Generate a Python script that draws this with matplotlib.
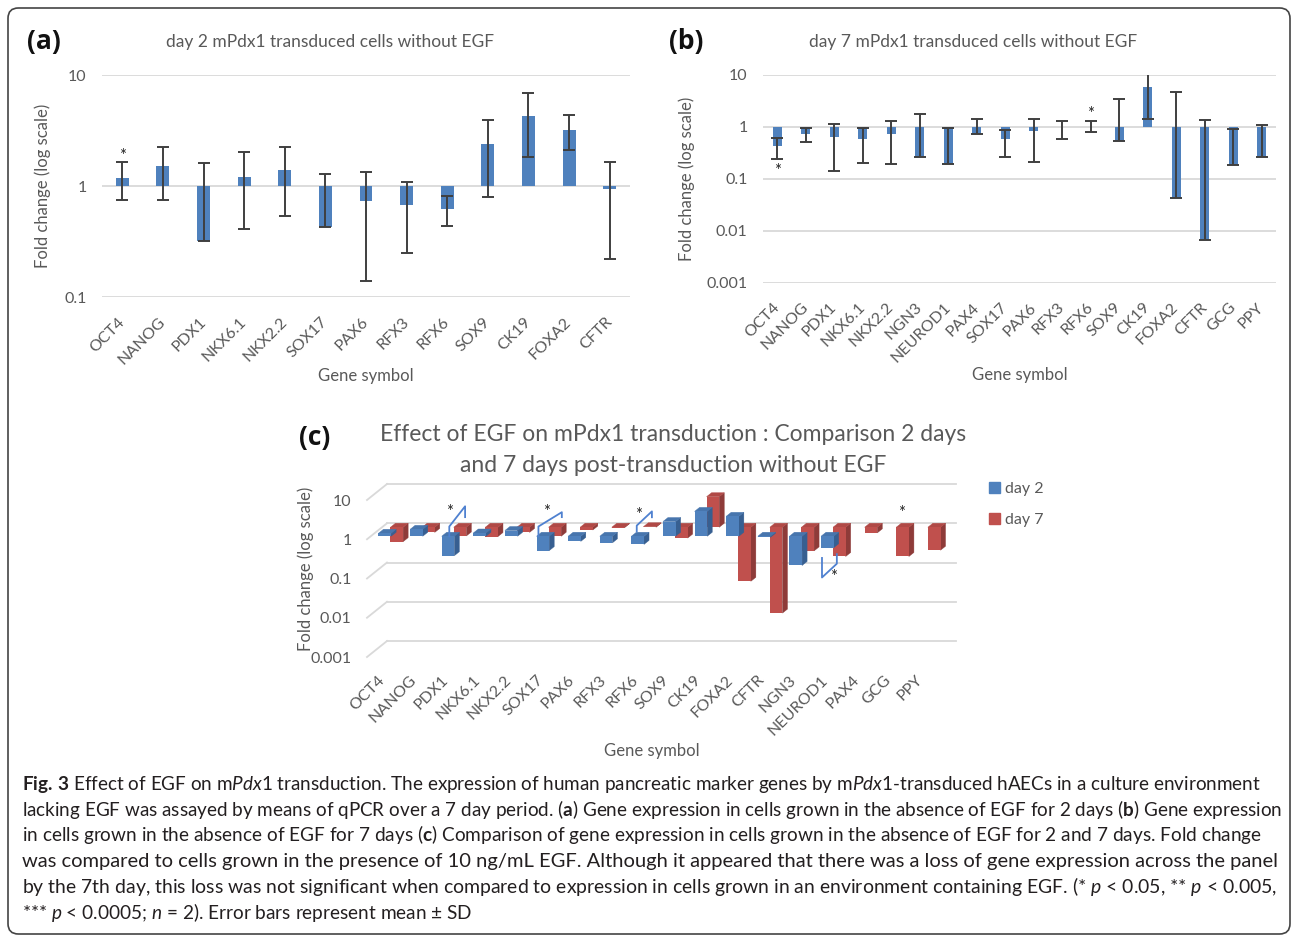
import numpy as np
import matplotlib.pyplot as plt
from matplotlib.patches import FancyBboxPatch, Patch, Polygon
from matplotlib.ticker import FuncFormatter, NullLocator

W, H = 1296, 938

# ---- panel (a): day 2 ----
genes_a = ['OCT4', 'NANOG', 'PDX1', 'NKX6.1', 'NKX2.2', 'SOX17', 'PAX6', 'RFX3',
           'RFX6', 'SOX9', 'CK19', 'FOXA2', 'CFTR']
fold_a = [1.19, 1.50, 0.32, 1.21, 1.40, 0.43, 0.74, 0.68, 0.62, 2.37, 4.30, 3.22, 0.94]
hi_a = [1.63, 2.26, 1.60, 2.04, 2.26, 1.28, 1.34, 1.09, 0.81, 3.96, 6.84, 4.33, 1.63]
lo_a = [0.75, 0.75, 0.32, 0.41, 0.54, 0.43, 0.139, 0.25, 0.44, 0.80, 1.81, 2.11, 0.22]

# ---- panel (b): day 7 ----
genes_b = ['OCT4', 'NANOG', 'PDX1', 'NKX6.1', 'NKX2.2', 'NGN3', 'NEUROD1', 'PAX4',
           'SOX17', 'PAX6', 'RFX3', 'RFX6', 'SOX9', 'CK19', 'FOXA2', 'CFTR', 'GCG', 'PPY']
fold_b = [0.43, 0.74, 0.63, 0.60, 0.74, 0.27, 0.195, 0.73, 0.59, 0.85, 0.98, 1.0,
          0.55, 5.8, 0.044, 0.0068, 0.186, 0.265]
hi_b = [0.62, 0.94, 1.12, 0.94, 1.30, 1.78, 0.94, 1.45, 0.89, 1.45, 1.30, 1.30,
        3.45, 10.5, 4.7, 1.34, 0.90, 1.08]
lo_b = [0.24, 0.52, 0.145, 0.20, 0.197, 0.27, 0.195, 0.73, 0.26, 0.21, 0.60, 0.79,
        0.55, 1.40, 0.044, 0.0068, 0.186, 0.265]

# ---- panel (c): day 2 vs day 7 ----
genes_c = ['OCT4', 'NANOG', 'PDX1', 'NKX6.1', 'NKX2.2', 'SOX17', 'PAX6', 'RFX3', 'RFX6',
           'SOX9', 'CK19', 'FOXA2', 'CFTR', 'NGN3', 'NEUROD1', 'PAX4', 'GCG', 'PPY']
nan = np.nan
day2_c = [1.19, 1.50, 0.32, 1.21, 1.40, 0.43, 0.74, 0.68, 0.62, 2.37, 4.30, 3.22, 0.94,
          0.18, 0.51, nan, nan, nan]
day7_c = [0.43, 0.74, 0.60, 0.58, 0.74, 0.59, 0.85, 0.97, 1.03, 0.53, 6.0, 0.042, 0.0065,
          0.25, 0.18, 0.72, 0.18, 0.26]

# significance brackets in (c): gene index, x offsets, y values
br_idx = [2, 5, 8, 14]
br_dx = [[0.04, 0.04, 0.54, 0.54], [-0.14, -0.14, 0.6, 0.6],
         [-0.03, -0.03, 0.45, 0.45], [-0.17, -0.17, 0.3, 0.3]]
br_y = [[1.0, 1.77, 5.8, 3.07], [1.0, 1.77, 4.1, 3.07],
        [1.34, 1.87, 4.3, 3.05], [0.28, 0.089, 0.2, 0.35]]
star_c_idx = [2, 5, 8, 14, 16]
star_c_dx = [0.06, 0.1, 0.04, 0.18, 0.36]
star_c_y = [4.1, 4.1, 3.57, 0.094, 3.8]

plt.rcParams['font.family'] = ['Lato', 'DejaVu Sans']
plt.rcParams['mathtext.fontset'] = 'custom'
plt.rcParams['mathtext.rm'] = 'Lato'
plt.rcParams['mathtext.it'] = 'Lato:italic'
plt.rcParams['mathtext.bf'] = 'Lato:bold'

GRAY = '#595959'
GRID = '#D9D9D9'
BLUE = '#4F81BD'
RED = '#C0504D'
ERR = '#3F3F3F'
TICK_FS = 11.5
LAB_FS = 12

fig = plt.figure(figsize=(W / 100, H / 100), dpi=100)


def px_axes(l, t, r, b):
    return fig.add_axes([l / W, 1 - b / H, (r - l) / W, (b - t) / H])


def log_fmt(v, pos):
    return '%g' % v


def style_log(ax, ymin, pad):
    ax.set_yscale('log')
    ax.set_ylim(ymin, 10)
    ax.yaxis.set_minor_locator(NullLocator())
    ax.yaxis.set_major_formatter(FuncFormatter(log_fmt))
    for s in ax.spines.values():
        s.set_visible(False)
    ax.tick_params(axis='y', length=0, pad=pad, labelsize=TICK_FS, labelcolor=GRAY)
    ax.tick_params(axis='x', length=0, labelsize=TICK_FS, labelcolor=GRAY)


def bar_panel(ax, genes, fold, hi, lo, ymin, xpad):
    x = np.arange(len(genes))
    fold = np.array(fold)
    style_log(ax, ymin, 11)
    ax.set_xlim(-0.5, len(genes) - 0.5)
    ax.yaxis.grid(True, color=GRID, lw=1.3)
    ax.set_axisbelow(True)
    ax.bar(x, fold - 1, bottom=1, width=0.32, color=BLUE, zorder=2)
    ax.errorbar(x, fold, yerr=[fold - np.array(lo), np.array(hi) - fold], fmt='none',
                ecolor=ERR, elinewidth=1.4, capsize=4, capthick=1.4, zorder=3)
    ax.set_xticks(x, genes, rotation=45, ha='right', va='center', rotation_mode='anchor')
    ax.tick_params(axis='x', pad=xpad)
    ax.set_ylabel('Fold change (log scale)', fontsize=LAB_FS, color=GRAY)
    ax.set_xlabel('Gene symbol', fontsize=LAB_FS, color=GRAY)


# (a)
axa = px_axes(102, 75, 630, 297)
bar_panel(axa, genes_a, fold_a, hi_a, lo_a, 0.1, 16.5)
axa.yaxis.set_label_coords(-0.096, 0.5)
axa.xaxis.set_label_coords(0.5, -0.318)
axa.text(0, 1.86, '*', ha='center', va='center', fontsize=12, color='#222222')

# (b)
axb = px_axes(763, 75, 1276, 283)
bar_panel(axb, genes_b, fold_b, hi_b, lo_b, 0.001, 16)
axb.yaxis.set_label_coords(-0.133, 0.5)
axb.xaxis.set_label_coords(0.5, -0.406)
axb.text(0, 0.14, '*', ha='center', va='center', fontsize=12, color='#222222')
axb.text(11, 1.78, '*', ha='center', va='center', fontsize=12, color='#222222')

# (c) pseudo-3D chart
axc = px_axes(367, 500, 936, 657)
style_log(axc, 0.001, 11)
axc.set_xlim(-0.5, len(genes_c) - 0.5)
PX_CAT = 569 / len(genes_c)
PX_DEC = 157 / 4


def sh(x, y, dx, dy):
    return x + dx / PX_CAT, y * 10 ** (dy / PX_DEC)


# back wall grid + left diagonals
for v in [0.001, 0.01, 0.1, 1, 10]:
    x0, y0 = sh(-0.5, v, 20, 16)
    x1, _ = sh(len(genes_c) - 0.5, v, 20, 16)
    axc.plot([x0, x1], [y0, y0], color=GRID, lw=1.3, clip_on=False, zorder=0)
    axc.plot([-0.5, x0], [v, y0], color=GRID, lw=1.3, clip_on=False, zorder=0)

BW = 0.4
DEPTH = (5, 4)


def bars3d(vals, gx, gy, face, side, top, z):
    for i, v in enumerate(vals):
        if np.isnan(v):
            continue
        x, base = sh(i, 1.0, gx, gy)
        _, val = sh(i, v, gx, gy)
        lo, hi = min(base, val), max(base, val)
        xl, xr = x - BW / 2, x + BW / 2
        xr2, hi2 = sh(xr, hi, *DEPTH)
        _, lo2 = sh(xr, lo, *DEPTH)
        xl2, _ = sh(xl, hi, *DEPTH)
        axc.add_patch(Polygon([(xr, lo), (xr, hi), (xr2, hi2), (xr2, lo2)],
                              closed=True, fc=side, ec=side, lw=0.3, zorder=z, clip_on=False))
        axc.add_patch(Polygon([(xl, hi), (xr, hi), (xr2, hi2), (xl2, hi2)],
                              closed=True, fc=top, ec=top, lw=0.3, zorder=z, clip_on=False))
        axc.bar(x, val - base, bottom=base, width=BW, color=face, zorder=z + 0.1,
                clip_on=False)


bars3d(day7_c, 14, 12, RED, '#8E3B39', '#B04946', 2)
bars3d(day2_c, 2, 3, BLUE, '#375F91', '#4775AD', 3)

for k, i in enumerate(br_idx):
    xs, ys = [], []
    for dx, y in zip(br_dx[k], br_y[k]):
        bx, by = sh(i + dx, y, 2, 3)
        xs.append(bx)
        ys.append(by)
    axc.plot(xs, ys, color='#4F81D0', lw=1.3, zorder=5, clip_on=False)
for i, dx, y in zip(star_c_idx, star_c_dx, star_c_y):
    sx, sy = sh(i + dx, y, 2, 3)
    axc.text(sx, sy, '*', ha='center', va='center', fontsize=12, color='#222222', zorder=6)

xc = np.arange(len(genes_c))
axc.set_xticks(xc, genes_c, rotation=45, ha='right', va='center', rotation_mode='anchor')
axc.tick_params(axis='x', pad=15)
axc.set_ylabel('Fold change (log scale)', fontsize=LAB_FS, color=GRAY)
axc.yaxis.set_label_coords(-0.093, 0.564)
axc.set_xlabel('Gene symbol', fontsize=LAB_FS, color=GRAY)
axc.xaxis.set_label_coords(0.5, -0.545)

handles = [Patch(color=BLUE), Patch(color=RED)]
fig.legend(handles, ['day 2', 'day 7'], loc='upper left',
           bbox_to_anchor=(975 / W, 1 - 468 / H), frameon=False, fontsize=11.5,
           handlelength=0.65, handleheight=0.65, handletextpad=0.3, labelspacing=1.05,
           labelcolor=GRAY)

# titles and panel letters
fig.text(330 / W, 1 - 42 / H, 'day 2 mPdx1 transduced cells without EGF',
         ha='center', va='center', fontsize=12.5, color=GRAY)
fig.text(973 / W, 1 - 42 / H, 'day 7 mPdx1 transduced cells without EGF',
         ha='center', va='center', fontsize=12.5, color=GRAY)
fig.text(673 / W, 1 - 450 / H,
         'Effect of EGF on mPdx1 transduction : Comparison 2 days\nand 7 days post-transduction without EGF',
         ha='center', va='center', fontsize=16.5, color=GRAY, linespacing=1.6)
for lab, x, y in [('(a)', 27, 41), ('(b)', 669, 41), ('(c)', 299, 437)]:
    fig.text(x / W, 1 - y / H, lab, ha='left', va='center', fontsize=19,
             fontweight='bold', family=['Open Sans', 'DejaVu Sans'], color='#111111')

# caption
cap_lines = [
    r'$\mathbf{Fig.\,3}$ Effect of EGF on m$\mathit{Pdx1}$ transduction. The expression of human pancreatic marker genes by m$\mathit{Pdx1}$-transduced hAECs in a culture environment',
    r'lacking EGF was assayed by means of qPCR over a 7 day period. ($\mathbf{a}$) Gene expression in cells grown in the absence of EGF for 2 days ($\mathbf{b}$) Gene expression',
    r'in cells grown in the absence of EGF for 7 days ($\mathbf{c}$) Comparison of gene expression in cells grown in the absence of EGF for 2 and 7 days. Fold change',
    r'was compared to cells grown in the presence of 10 ng/mL EGF. Although it appeared that there was a loss of gene expression across the panel',
    r'by the 7th day, this loss was not significant when compared to expression in cells grown in an environment containing EGF. (* $\mathit{p}$ < 0.05, ** $\mathit{p}$ < 0.005,',
    r'*** $\mathit{p}$ < 0.0005; $\mathit{n}$ = 2). Error bars represent mean ± SD',
]
cap_base = [790, 816, 841, 867, 893, 919]
cap_end = [1254, 1278, 1255, 1273, 1276]
texts = []
for line, y in zip(cap_lines, cap_base):
    texts.append(fig.text(22 / W, 1 - y / H, line, ha='left', va='baseline', fontsize=13,
                          color='#231F20'))
r = fig.canvas.get_renderer()
scales = [(e - 22) / t.get_window_extent(renderer=r).width for t, e in zip(texts, cap_end)]
for t, s in zip(texts, scales + [float(np.median(scales))]):
    t.set_fontsize(13 * s)

fig.patches.append(FancyBboxPatch((8 / W, 1 - 934 / H), 1282 / W, 926 / H,
                                  boxstyle='round,pad=0,rounding_size=0.008',
                                  transform=fig.transFigure, fill=False,
                                  ec='#444444', lw=1.2, mutation_aspect=W / H))

fig.savefig('out.png', dpi=100)
